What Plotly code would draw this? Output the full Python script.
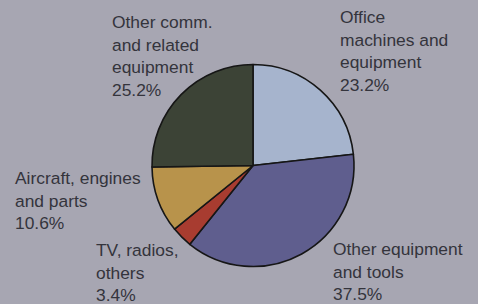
import plotly.graph_objects as go

categories = ["Office machines and equipment", "Other equipment and tools",
              "TV, radios, others", "Aircraft, engines and parts",
              "Other comm. and related equipment"]
values = [23.2, 37.5, 3.4, 10.6, 25.2]
label_lines = [["Office", "machines and", "equipment"],
               ["Other equipment", "and tools"],
               ["TV, radios,", "others"],
               ["Aircraft, engines", "and parts"],
               ["Other comm.", "and related", "equipment"]]
colors = ["#a6b4cd", "#5f5e8e", "#a83c30", "#b8934b", "#3c4336"]

W, H = 478, 304
bg = "#a7a6b2"

fig = go.Figure(go.Pie(
    labels=categories, values=values, sort=False, direction="clockwise",
    rotation=0, textinfo="none", hoverinfo="label+percent",
    marker=dict(colors=colors, line=dict(color="#161616", width=1.6)),
    domain=dict(x=[152 / W, 354 / W], y=[(H - 267) / H, (H - 64) / H]),
    showlegend=False,
))

# label anchor positions (pixels from top-left): left x, top y
label_pos = [(339, 6), (332, 238), (95, 239), (14, 167), (111, 11)]
for lines, v, (px, py) in zip(label_lines, values, label_pos):
    fig.add_annotation(
        text="<br>".join(lines + [f"{v:.1f}%"]),
        xref="paper", yref="paper", x=px / W, y=1 - py / H,
        xanchor="left", yanchor="top", align="left", showarrow=False,
        borderpad=0, font=dict(family="Liberation Sans, Arial", size=17.4, color="#34343c"),
    )

fig.update_layout(width=W, height=H, margin=dict(l=0, r=0, t=0, b=0),
                  paper_bgcolor=bg, plot_bgcolor=bg)
fig.write_html("out.html", config={"displayModeBar": False},
               post_script="document.body.style.margin='0';document.body.style.overflow='hidden';")
